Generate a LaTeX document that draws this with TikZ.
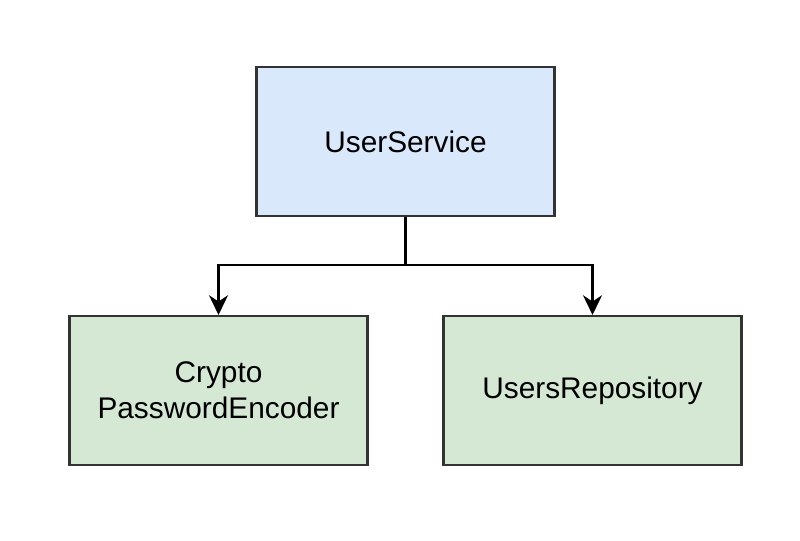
\documentclass[tikz,border=0pt]{standalone}
\usepackage{fontspec}
\setmainfont{Liberation Sans}
\usetikzlibrary{arrows.meta,positioning}
\definecolor{svcblue}{HTML}{DAE8FC}
\definecolor{depgreen}{HTML}{D5E8D4}
\definecolor{edge}{HTML}{333333}

\begin{document}
\begin{tikzpicture}[x=0.025cm,y=-0.025cm,
    box/.style={draw=edge,line width=1.6pt,minimum width=7.45cm,minimum height=3.72cm,
        align=center,font=\fontsize{21.2}{25.5}\selectfont,inner sep=0pt},
    link/.style={draw=black,line width=1.9pt,-{Stealth[length=14pt,width=13.5pt,inset=4.5pt]}}]
    \useasboundingbox (0,0) rectangle (800,540);

    \node[box,fill=svcblue] (svc) at (405.5,141.5) {UserService};
    \node[box,fill=depgreen] (enc) at (218.5,390.5) {Crypto\\PasswordEncoder};
    \node[box,fill=depgreen] (repo) at (592.5,390.5) {UsersRepository};

    \coordinate (split) at (405.5,265);
    \draw[link] (svc.south) -- (split) -| (enc.north);
    \draw[link] (split) -| (repo.north);
\end{tikzpicture}
\end{document}
